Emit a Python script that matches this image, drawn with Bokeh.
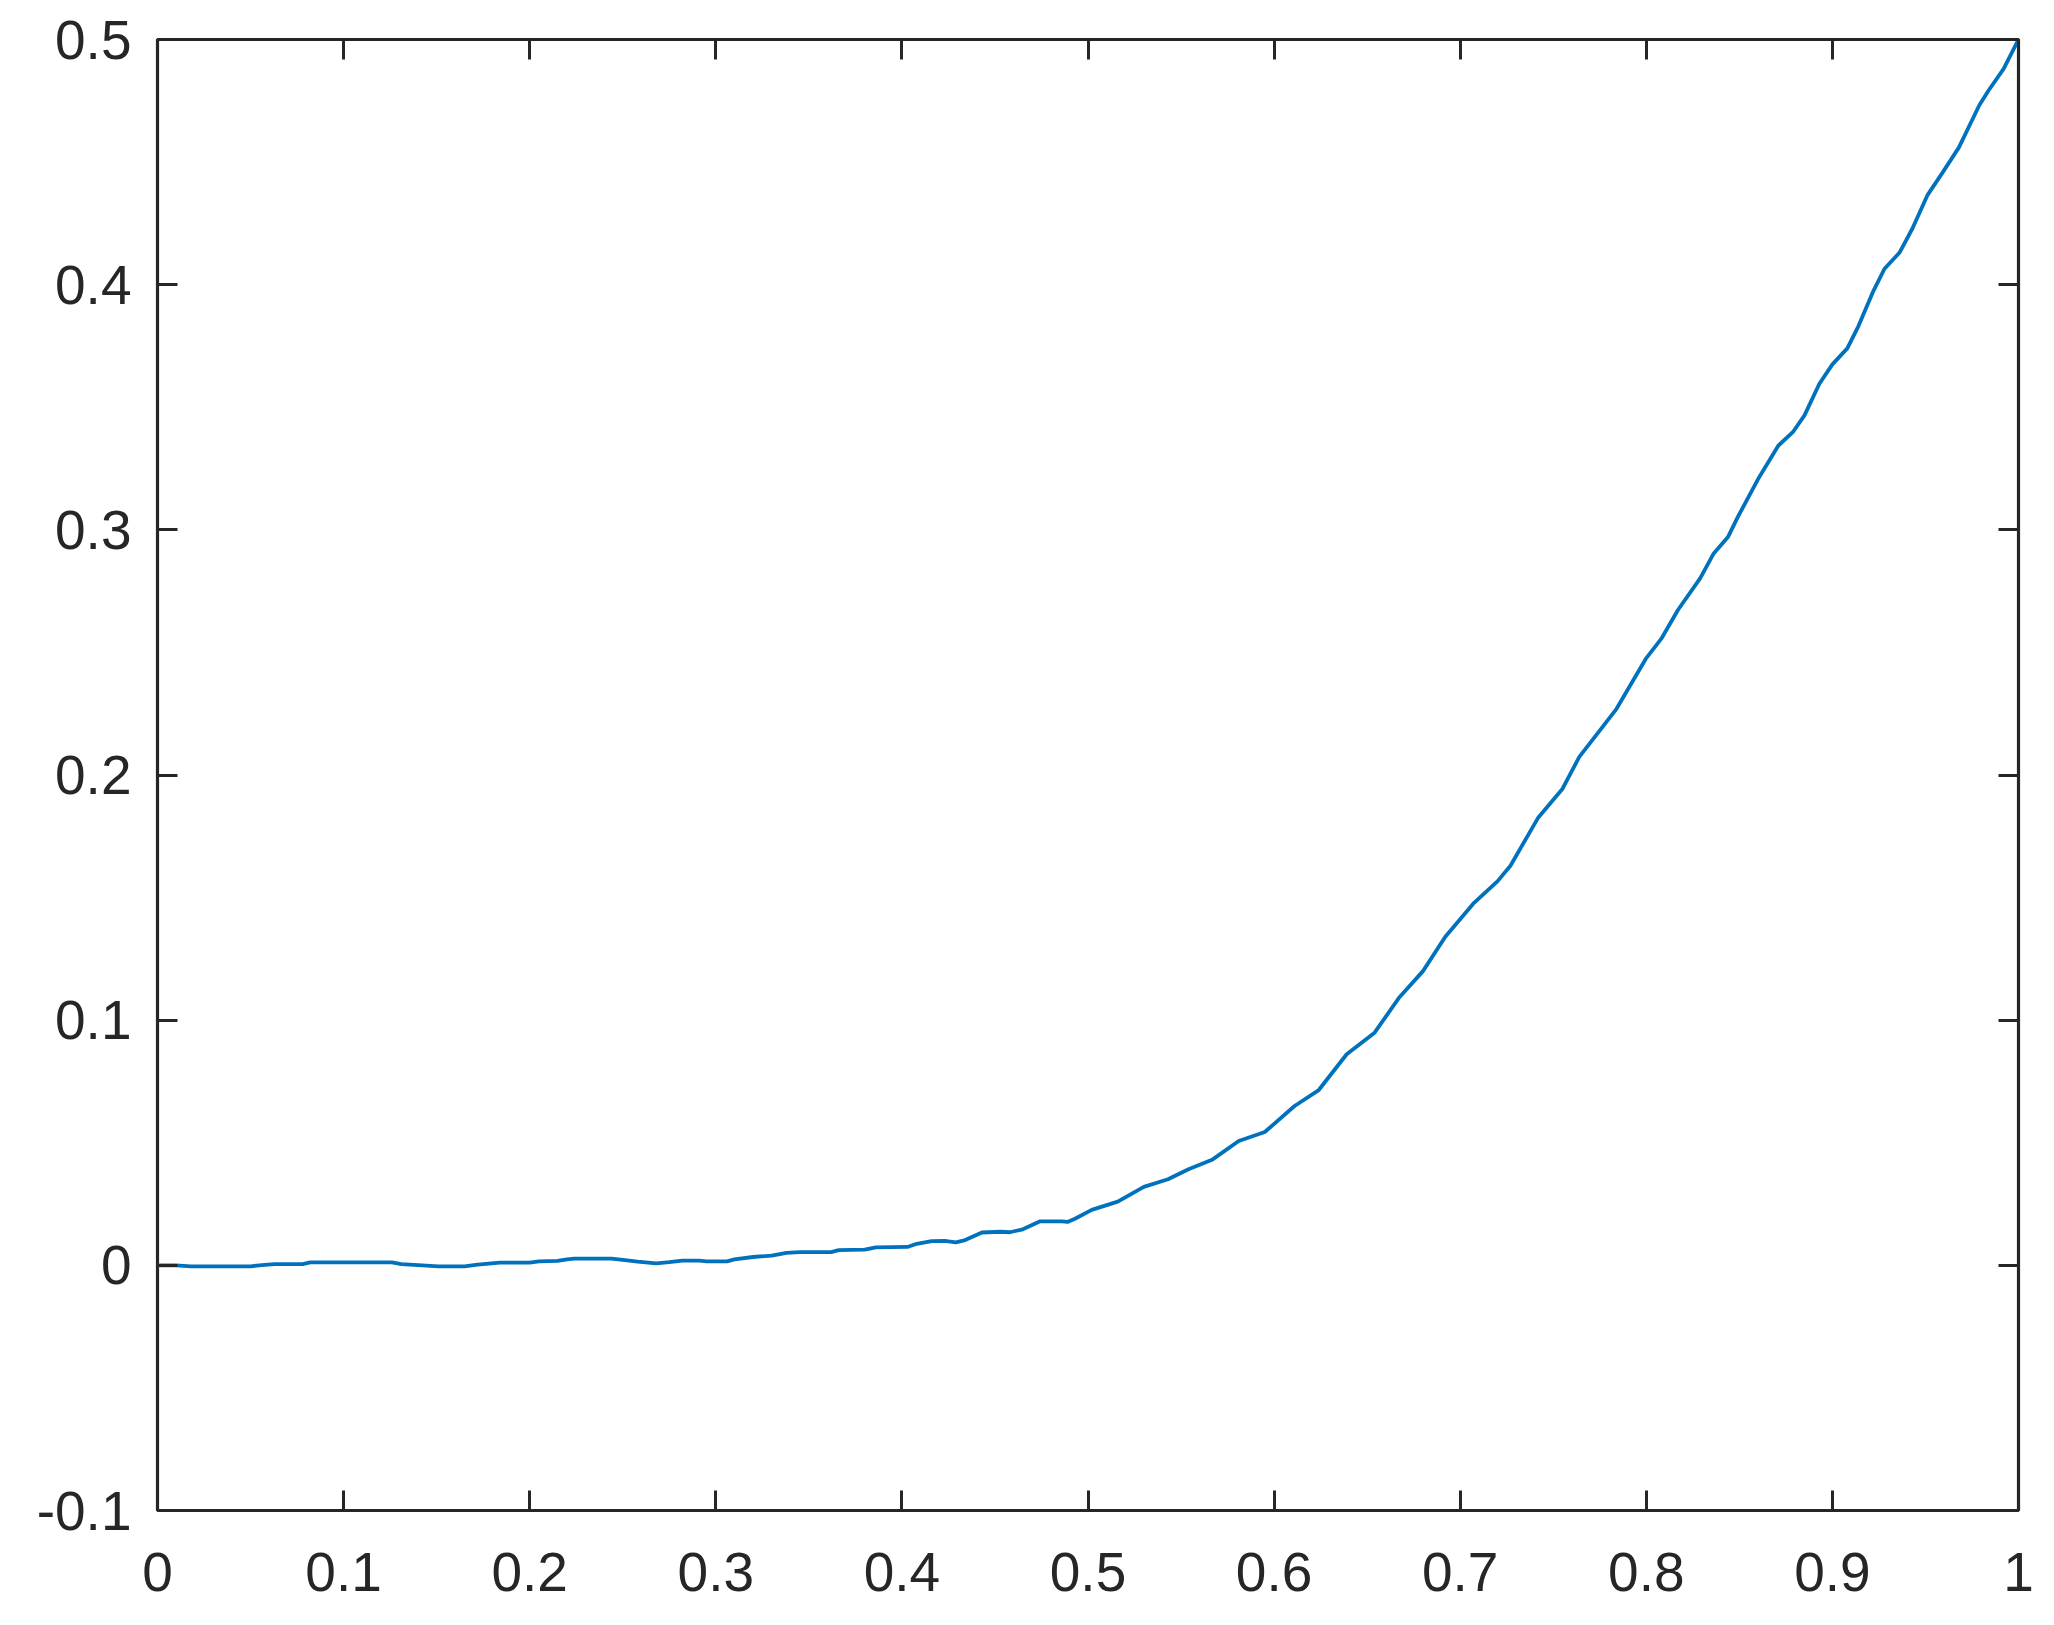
from bokeh.plotting import figure
from bokeh.models import Range1d, LinearAxis, FixedTicker
from bokeh.embed import file_html
from bokeh.resources import INLINE

x_vals = [0.000, 0.010, 0.018, 0.050, 0.056, 0.063, 0.078, 0.082, 0.126, 0.131,
          0.140, 0.151, 0.165, 0.172, 0.184, 0.200, 0.205, 0.215, 0.220, 0.224,
          0.244, 0.250, 0.258, 0.268, 0.275, 0.282, 0.291, 0.295, 0.306, 0.310,
          0.320, 0.330, 0.338, 0.345, 0.362, 0.366, 0.380, 0.386, 0.403, 0.408,
          0.416, 0.423, 0.429, 0.434, 0.443, 0.453, 0.458, 0.465, 0.474, 0.486,
          0.489, 0.493, 0.502, 0.516, 0.530, 0.543, 0.554, 0.567, 0.581, 0.595,
          0.611, 0.624, 0.639, 0.654, 0.667, 0.680, 0.692, 0.707, 0.720, 0.727,
          0.742, 0.755, 0.764, 0.784, 0.800, 0.808, 0.817, 0.829, 0.836, 0.844,
          0.849, 0.860, 0.871, 0.879, 0.885, 0.893, 0.900, 0.908, 0.914, 0.922,
          0.928, 0.936, 0.943, 0.951, 0.959, 0.968, 0.979, 0.984, 0.992, 1.000]
y_vals = [0.0000, 0.0000, -0.0004, -0.0004, 0.0001, 0.0005, 0.0005, 0.0012, 0.0012, 0.0005,
          0.0001, -0.0004, -0.0004, 0.0003, 0.0011, 0.0011, 0.0016, 0.0018, 0.0024, 0.0027,
          0.0027, 0.0022, 0.0015, 0.0008, 0.0013, 0.0019, 0.0019, 0.0016, 0.0016, 0.0024,
          0.0034, 0.0040, 0.0051, 0.0054, 0.0054, 0.0062, 0.0064, 0.0073, 0.0075, 0.0088,
          0.0099, 0.0100, 0.0094, 0.0103, 0.0134, 0.0137, 0.0135, 0.0147, 0.0179, 0.0179,
          0.0177, 0.0190, 0.0226, 0.0260, 0.0320, 0.0351, 0.0392, 0.0432, 0.0507, 0.0544,
          0.0650, 0.0715, 0.0861, 0.0949, 0.1090, 0.1200, 0.1340, 0.1475, 0.1566, 0.1630,
          0.1827, 0.1944, 0.2074, 0.2270, 0.2477, 0.2555, 0.2673, 0.2803, 0.2901, 0.2972,
          0.3050, 0.3206, 0.3344, 0.3401, 0.3467, 0.3596, 0.3675, 0.3740, 0.3831, 0.3974,
          0.4065, 0.4130, 0.4229, 0.4364, 0.4455, 0.4560, 0.4733, 0.4793, 0.4880, 0.5000]

x_ticks = [0, 0.1, 0.2, 0.3, 0.4, 0.5, 0.6, 0.7, 0.8, 0.9, 1.0]
x_tick_labels = ["0", "0.1", "0.2", "0.3", "0.4", "0.5", "0.6", "0.7", "0.8", "0.9", "1"]
y_ticks = [-0.1, 0, 0.1, 0.2, 0.3, 0.4, 0.5]
y_tick_labels = ["-0.1", "0", "0.1", "0.2", "0.3", "0.4", "0.5"]

AX = "#262626"
FONT = "Liberation Sans"
FS = "55px"

p = figure(width=2036, height=1602, output_backend="svg", toolbar_location=None,
           x_range=Range1d(0, 1), y_range=Range1d(-0.1, 0.5),
           x_axis_location=None, y_axis_location=None,
           min_border_left=157, min_border_right=18, min_border_top=39, min_border_bottom=92)
p.grid.visible = False
p.background_fill_color = "white"
p.border_fill_color = "white"
p.outline_line_color = AX
p.outline_line_width = 3.2
p.outline_line_alpha = 1.0

def make_axis(ticks, labels, show_labels):
    ax = LinearAxis(ticker=FixedTicker(ticks=ticks))
    ax.major_label_overrides = {t: (l if show_labels else "") for t, l in zip(ticks, labels)}
    ax.axis_line_color = None
    ax.major_tick_line_color = AX
    ax.major_tick_line_width = 3
    ax.major_tick_in = 20
    ax.major_tick_out = 0
    ax.minor_tick_line_color = None
    ax.major_label_text_font = FONT
    ax.major_label_text_font_size = FS if show_labels else "0px"
    ax.major_label_text_color = AX
    return ax

bottom = make_axis(x_ticks, x_tick_labels, True)
bottom.major_label_standoff = 42
left = make_axis(y_ticks, y_tick_labels, True)
left.major_label_standoff = 26
top = make_axis(x_ticks, x_tick_labels, False)
top.major_label_standoff = 0
right = make_axis(y_ticks, y_tick_labels, False)
right.major_label_standoff = 0

p.add_layout(bottom, "below")
p.add_layout(left, "left")
p.add_layout(top, "above")
p.add_layout(right, "right")

p.line(x_vals, y_vals, line_color="#0072BD", line_width=3.8)

open("out.html", "w").write(file_html(p, INLINE))
